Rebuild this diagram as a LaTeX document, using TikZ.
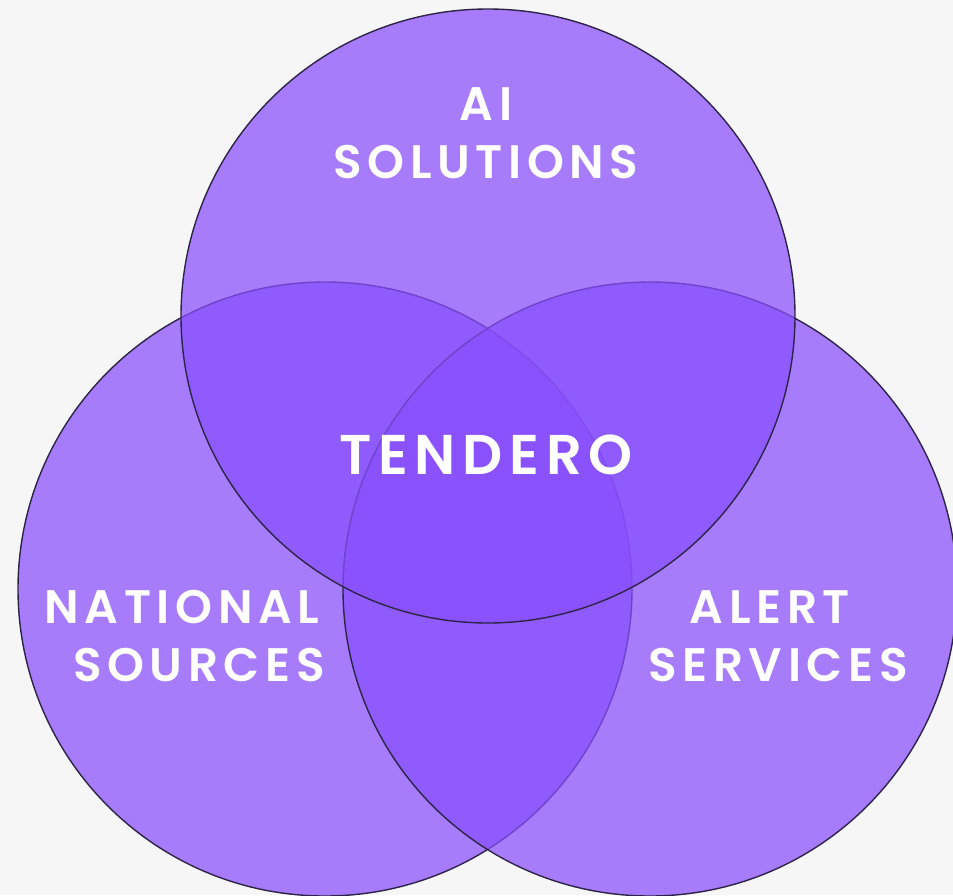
\documentclass[tikz,border=0pt]{standalone}
\usepackage{fontspec}
\setmainfont{Poppins SemiBold}
\definecolor{bgc}{HTML}{F6F6F6}
\definecolor{circfill}{RGB}{136,79,253}
\definecolor{circline}{HTML}{2E2448}
\begin{document}
\begin{tikzpicture}[x=1pt,y=-1pt,
  setcircle/.style={fill=circfill,fill opacity=0.725,draw=circline,line width=1.4pt},
  label/.style={text=white,anchor=base,inner sep=0pt,font=\fontsize{47}{56}\selectfont\addfontfeature{LetterSpace=12}},
  bigl/.style={text=white,anchor=base,inner sep=0pt,font=\fontsize{56}{64}\selectfont\addfontfeature{LetterSpace=12}}]
\fill[bgc] (0,0) rectangle (953,895);
\useasboundingbox (0,0) rectangle (953,895);
\path[setcircle] (325,589) circle[radius=307] coordinate (cl);
\path[setcircle] (650,589) circle[radius=307] coordinate (cr);
\path[setcircle] (488,316) circle[radius=307] coordinate (ct);
\node[label] (ai) at (486,120) {AI};
\node[label] (sol) at (486,178) {SOLUTIONS};
\node[bigl] (tend) at (486,474) {TENDERO};
\node[label] (nat) at (182,623) {NATIONAL};
\node[label] (src) at (199,681) {SOURCES};
\node[label] (alert) at (770,623) {ALERT};
\node[label] (serv) at (778,681) {SERVICES};
\end{tikzpicture}
\end{document}
